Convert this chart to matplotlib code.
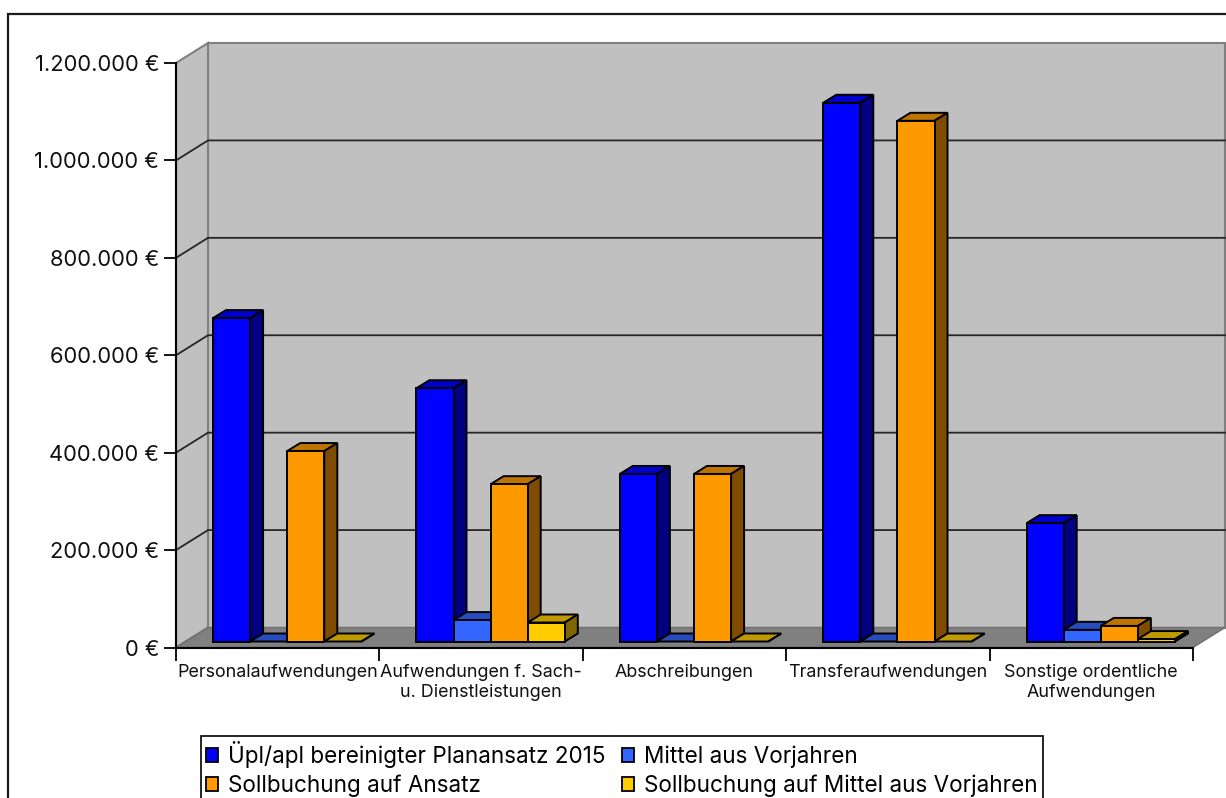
import numpy as np
import matplotlib
matplotlib.use("Agg")
import matplotlib.pyplot as plt
from matplotlib.patches import Patch, Polygon, Rectangle

plt.rcParams["font.family"] = ["Inter", "Liberation Sans", "DejaVu Sans"]

# Data
categories = ["Personalaufwendungen", "Aufwendungen f. Sach-\nu. Dienstleistungen",
              "Abschreibungen", "Transferaufwendungen",
              "Sonstige ordentliche\nAufwendungen"]
series_names = ["Üpl/apl bereinigter Planansatz 2015", "Mittel aus Vorjahren",
                "Sollbuchung auf Ansatz", "Sollbuchung auf Mittel aus Vorjahren"]
plan = [664000, 520000, 344000, 1106000, 243000]
mittel = [0, 44000, 0, 0, 24000]
soll = [391000, 323000, 344000, 1069000, 32000]
soll_mittel = [0, 39000, 0, 0, 5000]
y_ticks = [0, 200000, 400000, 600000, 800000, 1000000, 1200000]

values = [plan, mittel, soll, soll_mittel]
front = ["#0000FF", "#3366FF", "#FF9900", "#FFCC00"]
top = ["#0000CC", "#264CBF", "#BF7300", "#BF9900"]
side = ["#000080", "#1A3380", "#804C00", "#806600"]

W, H = 1226, 798
fig = plt.figure(figsize=(W / 100, H / 100), dpi=100, facecolor="white")

# outer frame of the chart area, runs off the right and bottom edge
fig.add_artist(Rectangle((7.5 / W, -0.05), 1.1, 1.05 - 14 / H, transform=fig.transFigure,
                         fill=False, ec="#1a1a1a", lw=1.6))

# axes = front plane of the fake 3d box
x0, x1, y0, y1 = 176, 1193, 647.5, 63
ax = fig.add_axes([x0 / W, 1 - y0 / H, (x1 - x0) / W, (y0 - y1) / H])
ax.set_xlim(0, len(categories))
ax.set_ylim(0, 1200000)
ax.patch.set_visible(False)

# depth of the box, in data units
px_x = len(categories) / (x1 - x0)
px_y = 1200000 / (y0 - y1)
dep_x = 32 * px_x
dep_y = 20 * px_y


def poly(pts, color, edge="black", lw=1.4, z=2):
    ax.add_patch(Polygon(pts, closed=True, fc=color, ec=edge, lw=lw, clip_on=False,
                         joinstyle="miter", zorder=z))


n = len(categories)
ymax = y_ticks[-1]

# walls and floor
poly([(dep_x, dep_y), (n + dep_x, dep_y), (n + dep_x, ymax + dep_y), (dep_x, ymax + dep_y)],
     "#C0C0C0", edge="#808080", lw=1.5, z=1)
poly([(0, 0), (dep_x, dep_y), (dep_x, ymax + dep_y), (0, ymax)], "#C0C0C0", edge="#808080", lw=1.5, z=1)
poly([(0, 0), (n, 0), (n + dep_x, dep_y), (dep_x, dep_y)], "#808080", edge="#707070", lw=1.0, z=1)

# gridlines
for t in y_ticks[1:-1]:
    ax.plot([0, dep_x, n + dep_x], [t, t + dep_y, t + dep_y], color="#262626", lw=1.3,
            clip_on=False, zorder=1.5)

# bars, left to right so the next bar covers the side of the one before
bar_w = 37.1 * px_x
bar_dx, bar_dy = 13 * px_x, 8 * px_y
off_x, off_y = 9.5 * px_x, 6 * px_y
z = 3
for c in range(n):
    left = c + 0.5 - 2 * bar_w + off_x
    for s in range(len(values)):
        v = values[s][c]
        a = left + s * bar_w
        b = a + bar_w
        lo = off_y
        hi = off_y + v
        poly([(a, hi), (b, hi), (b + bar_dx, hi + bar_dy), (a + bar_dx, hi + bar_dy)], top[s], z=z)
        poly([(b, lo), (b + bar_dx, lo + bar_dy), (b + bar_dx, hi + bar_dy), (b, hi)], side[s], z=z)
        if v > 0:
            poly([(a, lo), (b, lo), (b, hi), (a, hi)], front[s], z=z)
        z += 1

# axes and ticks
for name in ["top", "right"]:
    ax.spines[name].set_visible(False)
for name in ["left", "bottom"]:
    ax.spines[name].set_linewidth(1.5)
    ax.spines[name].set_zorder(2.5)
ax.set_yticks(y_ticks)
ax.set_yticklabels([f"{t:,}".replace(",", ".") + " €" for t in y_ticks], fontsize=15.8, color="#111111")
ax.tick_params(axis="y", length=9, width=1.3, pad=3)
ax.set_xticks(range(n + 1))
ax.set_xticklabels([])
ax.tick_params(axis="x", length=9, width=1.3)
ax.set_xticks(np.arange(n) + 0.5, minor=True)
ax.set_xticklabels(categories, minor=True, fontsize=12.9, color="#111111", linespacing=1.22)
ax.tick_params(axis="x", which="minor", length=0, pad=12)

# legend, columns fill top to bottom
handles = [Patch(fc=front[i], ec="black", lw=1.3) for i in [0, 2, 1, 3]]
labels = [series_names[i] for i in [0, 2, 1, 3]]
leg = fig.legend(handles, labels, ncol=2, loc="upper left", bbox_to_anchor=(201 / W, 1 - 736 / H),
                 bbox_transform=fig.transFigure, fontsize=16.2, frameon=True, fancybox=False,
                 edgecolor="black", framealpha=1, borderaxespad=0, handlelength=0.55, handleheight=0.55,
                 handletextpad=0.45, columnspacing=0.7, labelspacing=0.3, borderpad=0.22)
leg.get_frame().set_linewidth(1.2)

fig.savefig("out.png", dpi=100)
